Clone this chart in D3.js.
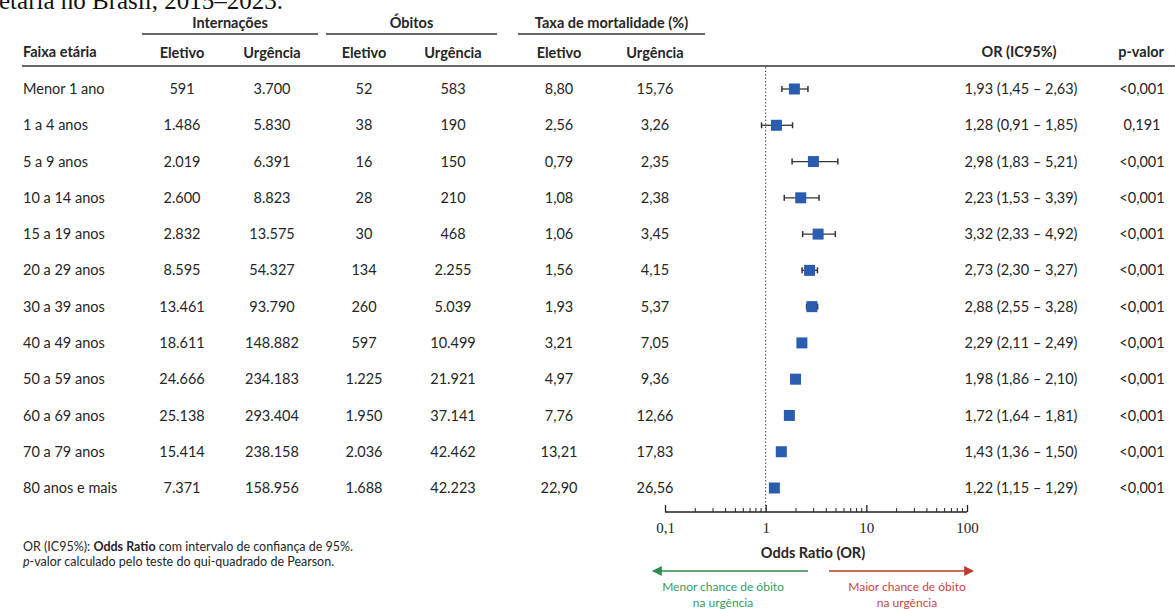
<!DOCTYPE html>
<html>
<head>
<meta charset="utf-8">
<script src="https://cdn.jsdelivr.net/npm/d3@7"></script>
<style>
  body { margin: 0; background: #ffffff; }
  svg { display: block; font-family: Lato, "Noto Sans", sans-serif; }
</style>
</head>
<body>
<svg id="chart" width="1175" height="609"></svg>
<script>
// Internações, óbitos e mortalidade por faixa etária: eletivo vs urgência
const ageGroups = [
  "Menor 1 ano", "1 a 4 anos", "5 a 9 anos", "10 a 14 anos", "15 a 19 anos",
  "20 a 29 anos", "30 a 39 anos", "40 a 49 anos", "50 a 59 anos",
  "60 a 69 anos", "70 a 79 anos", "80 anos e mais"
];
const admElective = [591, 1486, 2019, 2600, 2832, 8595, 13461, 18611, 24666, 25138, 15414, 7371];
const admUrgent   = [3700, 5830, 6391, 8823, 13575, 54327, 93790, 148882, 234183, 293404, 238158, 158956];
const deathsElective = [52, 38, 16, 28, 30, 134, 260, 597, 1225, 1950, 2036, 1688];
const deathsUrgent   = [583, 190, 150, 210, 468, 2255, 5039, 10499, 21921, 37141, 42462, 42223];
const mortElective = [8.80, 2.56, 0.79, 1.08, 1.06, 1.56, 1.93, 3.21, 4.97, 7.76, 13.21, 22.90];
const mortUrgent   = [15.76, 3.26, 2.35, 2.38, 3.45, 4.15, 5.37, 7.05, 9.36, 12.66, 17.83, 26.56];
const oddsRatio = [1.93, 1.28, 2.98, 2.23, 3.32, 2.73, 2.88, 2.29, 1.98, 1.72, 1.43, 1.22];
const ciLower   = [1.45, 0.91, 1.83, 1.53, 2.33, 2.30, 2.55, 2.11, 1.86, 1.64, 1.36, 1.15];
const ciUpper   = [2.63, 1.85, 5.21, 3.39, 4.92, 3.27, 3.28, 2.49, 2.10, 1.81, 1.50, 1.29];
const pValueLabels = ["<0,001", "0,191", "<0,001", "<0,001", "<0,001", "<0,001",
                      "<0,001", "<0,001", "<0,001", "<0,001", "<0,001", "<0,001"];
const orTicks = [0.1, 1, 10, 100];
const orTickLabels = ["0,1", "1", "10", "100"];

const rows = ageGroups.map((g, i) => ({
  group: g,
  admE: admElective[i], admU: admUrgent[i],
  detE: deathsElective[i], detU: deathsUrgent[i],
  mrtE: mortElective[i], mrtU: mortUrgent[i],
  or: oddsRatio[i], lo: ciLower[i], hi: ciUpper[i],
  p: pValueLabels[i]
}));

const br = d3.formatLocale({ decimal: ",", thousands: ".", grouping: [3], currency: ["R$ ", ""] });
const fInt = br.format(",d");
const f2 = br.format(".2f");

const svg = d3.select("#chart");
const ink = "#262626";

// Título (parcialmente visível no topo)
svg.append("text")
  .attr("x", -1).attr("y", 9)
  .attr("font-family", "'Liberation Serif', 'Times New Roman', serif")
  .attr("font-size", 25).attr("fill", "#111")
  .text("etária no Brasil, 2015–2023.");

// Escala vertical das linhas
const y = d3.scalePoint().domain(ageGroups).range([89, 488]);

// Cabeçalho de grupos
const groups = [
  { label: "Internações", x0: 142, x1: 318 },
  { label: "Óbitos", x0: 326, x1: 497 },
  { label: "Taxa de mortalidade (%)", x0: 518, x1: 705 }
];
const hdr = svg.append("g").attr("font-weight", 700).attr("fill", ink).attr("font-size", 14.5);
groups.forEach(g => {
  hdr.append("text").attr("x", (g.x0 + g.x1) / 2).attr("y", 23)
    .attr("text-anchor", "middle").attr("dy", "0.35em").text(g.label);
  svg.append("line").attr("x1", g.x0).attr("x2", g.x1).attr("y1", 34).attr("y2", 34)
    .attr("stroke", "#333").attr("stroke-width", 1.3);
});

// Cabeçalho de colunas
const columns = [
  { key: "admE", label: "Eletivo", x: 182, fmt: fInt },
  { key: "admU", label: "Urgência", x: 272, fmt: fInt },
  { key: "detE", label: "Eletivo", x: 364, fmt: fInt },
  { key: "detU", label: "Urgência", x: 453, fmt: fInt },
  { key: "mrtE", label: "Eletivo", x: 559, fmt: f2 },
  { key: "mrtU", label: "Urgência", x: 655, fmt: f2 }
];
hdr.append("text").attr("x", 23).attr("y", 52).attr("dy", "0.35em").text("Faixa etária");
columns.forEach(c => {
  hdr.append("text").attr("x", c.x).attr("y", 53).attr("dy", "0.35em")
    .attr("text-anchor", "middle").text(c.label);
});
hdr.append("text").attr("x", 1019).attr("y", 52).attr("dy", "0.35em")
  .attr("text-anchor", "middle").text("OR (IC95%)");
hdr.append("text").attr("x", 1164).attr("y", 52).attr("dy", "0.35em")
  .attr("text-anchor", "end").text("p-valor");

svg.append("line").attr("x1", 22).attr("x2", 1175).attr("y1", 66).attr("y2", 66)
  .attr("stroke", "#333").attr("stroke-width", 1.6);

// Corpo da tabela
const body = svg.append("g").attr("font-size", 14.5).attr("fill", ink);
const rowG = body.selectAll("g.row").data(rows).join("g")
  .attr("class", "row")
  .attr("transform", d => `translate(0,${y(d.group)})`);

rowG.append("text").attr("x", 23).attr("dy", "0.35em").text(d => d.group);
columns.forEach(c => {
  rowG.append("text").attr("x", c.x).attr("dy", "0.35em")
    .attr("text-anchor", "middle").text(d => c.fmt(d[c.key]));
});
rowG.append("text").attr("x", 1021).attr("dy", "0.35em").attr("text-anchor", "middle")
  .text(d => `${f2(d.or)} (${f2(d.lo)} – ${f2(d.hi)})`);
rowG.append("text").attr("x", 1142).attr("dy", "0.35em").attr("text-anchor", "middle")
  .text(d => d.p);

// Forest plot
const x = d3.scaleLog().domain([0.1, 100]).range([665, 967]);
const axisY = 512;

svg.append("line")
  .attr("x1", x(1)).attr("x2", x(1)).attr("y1", 67).attr("y2", axisY)
  .attr("stroke", "#444").attr("stroke-width", 1).attr("stroke-dasharray", "1.5,2");

const forest = svg.append("g");
const fr = forest.selectAll("g").data(rows).join("g")
  .attr("transform", d => `translate(0,${y(d.group)})`);
fr.append("line")
  .attr("x1", d => x(d.lo)).attr("x2", d => x(d.hi))
  .attr("stroke", "#333").attr("stroke-width", 1.3);
fr.append("line")
  .attr("x1", d => x(d.lo)).attr("x2", d => x(d.lo)).attr("y1", -3).attr("y2", 3)
  .attr("stroke", "#333").attr("stroke-width", 1.5);
fr.append("line")
  .attr("x1", d => x(d.hi)).attr("x2", d => x(d.hi)).attr("y1", -3).attr("y2", 3)
  .attr("stroke", "#333").attr("stroke-width", 1.5);
fr.append("rect")
  .attr("x", d => x(d.or) - 5.5).attr("y", -5.5)
  .attr("width", 11).attr("height", 11)
  .attr("fill", "#2a5db0");

// Eixo logarítmico
const minorTicks = x.ticks().filter(v => !orTicks.includes(v));
const axisG = svg.append("g").attr("transform", `translate(0,${axisY})`);
axisG.call(
  d3.axisBottom(x).tickValues(orTicks).tickSize(-7).tickPadding(10)
    .tickFormat((d, i) => orTickLabels[i])
);
axisG.append("g").selectAll("line").data(minorTicks).join("line")
  .attr("x1", d => x(d)).attr("x2", d => x(d)).attr("y1", 0).attr("y2", -4)
  .attr("stroke", "#222").attr("stroke-width", 1);
axisG.select(".domain").attr("stroke", "#222").attr("stroke-width", 1.5)
  .attr("d", `M${x(0.1)},0H${x(100)}`);
axisG.selectAll(".tick line").attr("stroke", "#222").attr("stroke-width", 1.3);
axisG.selectAll(".tick text")
  .attr("font-family", "'Liberation Serif', 'Times New Roman', serif")
  .attr("font-size", 15).attr("fill", ink);

svg.append("text")
  .attr("x", 813).attr("y", 553).attr("dy", "0.35em")
  .attr("text-anchor", "middle").attr("font-weight", 700)
  .attr("font-size", 14.5).attr("fill", ink)
  .text("Odds Ratio (OR)");

// Setas de interpretação
const defs = svg.append("defs");
[["arrGreen", "#2f8a4f"], ["arrRed", "#c0392b"]].forEach(([id, col]) => {
  defs.append("marker").attr("id", id)
    .attr("viewBox", "0 0 10 10").attr("refX", 9).attr("refY", 5)
    .attr("markerWidth", 7).attr("markerHeight", 7).attr("orient", "auto-start-reverse")
    .append("path").attr("d", "M0,0L10,5L0,10Z").attr("fill", col);
});
svg.append("line").attr("x1", 808).attr("x2", 653).attr("y1", 571).attr("y2", 571)
  .attr("stroke", "#2f8a4f").attr("stroke-width", 1.4).attr("marker-end", "url(#arrGreen)");
svg.append("line").attr("x1", 829).attr("x2", 973).attr("y1", 571).attr("y2", 571)
  .attr("stroke", "#c0392b").attr("stroke-width", 1.4).attr("marker-end", "url(#arrRed)");

const lowTxt = svg.append("text").attr("text-anchor", "middle").attr("font-size", 12)
  .attr("fill", "#3a9a5e");
lowTxt.append("tspan").attr("x", 723).attr("y", 591).text("Menor chance de óbito");
lowTxt.append("tspan").attr("x", 723).attr("y", 607).text("na urgência");
const highTxt = svg.append("text").attr("text-anchor", "middle").attr("font-size", 12)
  .attr("fill", "#c8463f");
highTxt.append("tspan").attr("x", 907).attr("y", 591).text("Maior chance de óbito");
highTxt.append("tspan").attr("x", 907).attr("y", 607).text("na urgência");

// Notas
const note1 = svg.append("text").attr("x", 23).attr("y", 551).attr("font-size", 12.5).attr("fill", ink);
note1.append("tspan").text("OR (IC95%): ");
note1.append("tspan").attr("font-weight", 700).text("Odds Ratio");
note1.append("tspan").text(" com intervalo de confiança de 95%.");
const note2 = svg.append("text").attr("x", 23).attr("y", 566).attr("font-size", 12.5).attr("fill", ink);
note2.append("tspan").attr("font-style", "italic").text("p");
note2.append("tspan").text("-valor calculado pelo teste do qui-quadrado de Pearson.");
</script>
</body>
</html>
